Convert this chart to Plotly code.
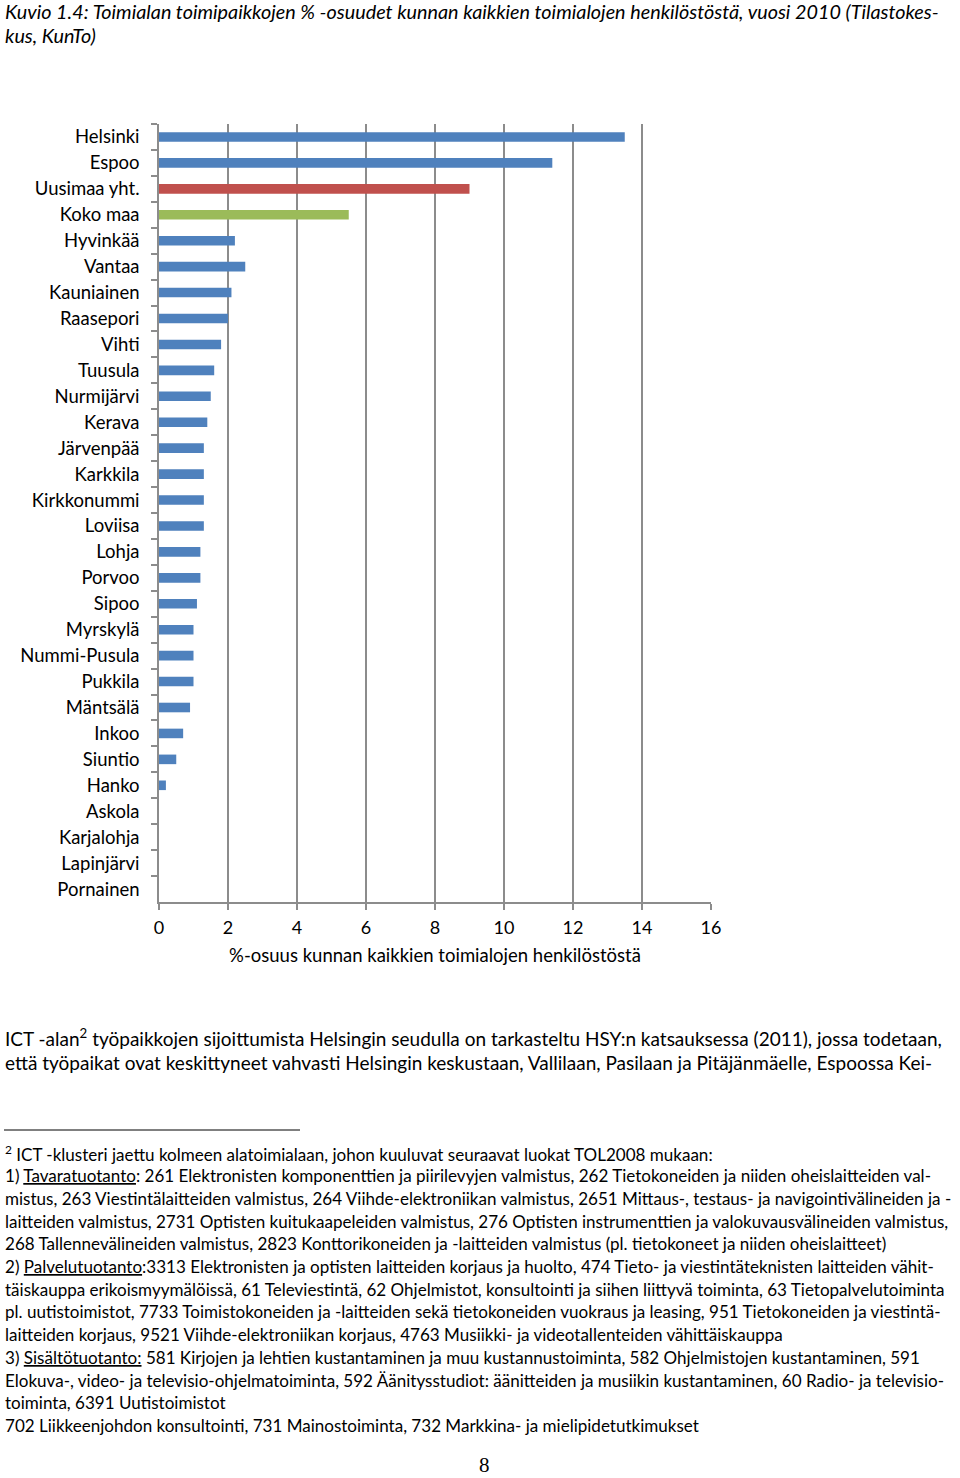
import plotly.graph_objects as go

categories = ["Helsinki", "Espoo", "Uusimaa yht.", "Koko maa", "Hyvinkää", "Vantaa",
              "Kauniainen", "Raasepori", "Vihti", "Tuusula", "Nurmijärvi", "Kerava",
              "Järvenpää", "Karkkila", "Kirkkonummi", "Loviisa", "Lohja", "Porvoo",
              "Sipoo", "Myrskylä", "Nummi-Pusula", "Pukkila", "Mäntsälä", "Inkoo",
              "Siuntio", "Hanko", "Askola", "Karjalohja", "Lapinjärvi", "Pornainen"]
values = [13.5, 11.4, 9.0, 5.5, 2.2, 2.5, 2.1, 2.0, 1.8, 1.6, 1.5, 1.4,
          1.3, 1.3, 1.3, 1.3, 1.2, 1.2, 1.1, 1.0, 1.0, 1.0, 0.9, 0.7,
          0.5, 0.2, 0.0, 0.0, 0.0, 0.0]
x_ticks = [0, 2, 4, 6, 8, 10, 12, 14, 16]
x_title = "%-osuus kunnan kaikkien toimialojen henkilöstöstä"

title_lines = [
    "Kuvio 1.4: Toimialan toimipaikkojen % -osuudet kunnan kaikkien toimialojen henkilöstöstä, vuosi 2010 (Tilastokes-",
    "kus, KunTo)",
]
body_lines = [
    "ICT -alan<sup>2</sup> työpaikkojen sijoittumista Helsingin seudulla on tarkasteltu HSY:n katsauksessa (2011), jossa todetaan,",
    "että työpaikat ovat keskittyneet vahvasti Helsingin keskustaan, Vallilaan, Pasilaan ja Pitäjänmäelle, Espoossa Kei-",
]
footnote_lines = [
    "<sup>2</sup> ICT -klusteri jaettu kolmeen alatoimialaan, johon kuuluvat seuraavat luokat TOL2008 mukaan:",
    "1) <u>Tavaratuotanto</u>: 261 Elektronisten komponenttien ja piirilevyjen valmistus, 262 Tietokoneiden ja niiden oheislaitteiden val-",
    "mistus, 263 Viestintälaitteiden valmistus, 264 Viihde-elektroniikan valmistus, 2651 Mittaus-, testaus- ja navigointivälineiden ja -",
    "laitteiden valmistus, 2731 Optisten kuitukaapeleiden valmistus, 276 Optisten instrumenttien ja valokuvausvälineiden valmistus,",
    "268 Tallennevälineiden valmistus, 2823 Konttorikoneiden ja -laitteiden valmistus (pl. tietokoneet ja niiden oheislaitteet)",
    "2) <u>Palvelutuotanto</u>:3313 Elektronisten ja optisten laitteiden korjaus ja huolto, 474 Tieto- ja viestintäteknisten laitteiden vähit-",
    "täiskauppa erikoismyymälöissä, 61 Televiestintä, 62 Ohjelmistot, konsultointi ja siihen liittyvä toiminta, 63 Tietopalvelutoiminta",
    "pl. uutistoimistot, 7733 Toimistokoneiden ja -laitteiden sekä tietokoneiden vuokraus ja leasing, 951 Tietokoneiden ja viestintä-",
    "laitteiden korjaus, 9521 Viihde-elektroniikan korjaus, 4763 Musiikki- ja videotallenteiden vähittäiskauppa",
    "3) <u>Sisältötuotanto:</u> 581 Kirjojen ja lehtien kustantaminen ja muu kustannustoiminta, 582 Ohjelmistojen kustantaminen, 591",
    "Elokuva-, video- ja televisio-ohjelmatoiminta, 592 Äänitysstudiot: äänitteiden ja musiikin kustantaminen, 60 Radio- ja televisio-",
    "toiminta, 6391 Uutistoimistot",
    "702 Liikkeenjohdon konsultointi, 731 Mainostoiminta, 732 Markkina- ja mielipidetutkimukset",
]
page_number = "8"

highlight = {"Uusimaa yht.": "#C0504D", "Koko maa": "#9BBB59"}
bar_colors = [highlight.get(c, "#4F81BD") for c in categories]

W, H = 960, 1478
L, R, T, B = 159, 711, 124, 902
FONT = "Lato"

def pxx(x):
    return (x - L) / (R - L)

def pxy(y):
    return (B - y) / (B - T)

fig = go.Figure(go.Bar(
    x=values, y=categories, orientation="h",
    marker=dict(color=bar_colors, line=dict(width=0)),
    width=0.37,
))

annotations = []
def add_text(txt, x, y, size, family=FONT, italic=False, anchor="left"):
    if italic:
        txt = "<i>" + txt + "</i>"
    annotations.append(dict(text=txt, x=pxx(x), y=pxy(y), xref="paper", yref="paper",
                            xanchor=anchor, yanchor="middle", showarrow=False,
                            font=dict(family=family, size=size, color="#000000")))

for i, t in enumerate(title_lines):
    add_text(t, 3, 11 + 24.5 * i, 19.8, italic=True)
for i, t in enumerate(body_lines):
    add_text(t, 3, 1037 + 25.5 * i, 19)
for i, t in enumerate(footnote_lines):
    add_text(t, 3, 1153 + 22.7 * i, 17.05)
add_text(page_number, 484, 1465, 21, family="Liberation Serif", anchor="center")

fig.update_layout(
    width=W, height=H,
    margin=dict(l=L, r=W - R, t=T, b=H - B, pad=0),
    plot_bgcolor="white", paper_bgcolor="white",
    showlegend=False,
    annotations=annotations,
    shapes=[dict(type="line", xref="paper", yref="paper",
                 x0=pxx(4), x1=pxx(300), y0=pxy(1130), y1=pxy(1130),
                 line=dict(color="#000000", width=1))],
    font=dict(family=FONT, size=18, color="#000000"),
)
fig.update_xaxes(
    range=[0, 16], tickvals=x_ticks, ticktext=[str(v) for v in x_ticks],
    showgrid=True, gridcolor="#8C8C8C", gridwidth=1.5,
    showline=True, linecolor="#8C8C8C", linewidth=1.5,
    ticks="outside", ticklen=6, tickcolor="#8C8C8C", tickwidth=1.5,
    zeroline=False, ticklabelstandoff=3,
    tickfont=dict(family=FONT, size=18),
    title=dict(text=x_title, font=dict(family=FONT, size=18.5), standoff=12),
)
fig.update_yaxes(
    categoryorder="array", categoryarray=categories, autorange="reversed",
    showgrid=False, showline=True, linecolor="#8C8C8C", linewidth=1.5,
    ticks="outside", ticklen=6, tickcolor="#8C8C8C", tickwidth=1.5,
    tickson="boundaries", ticklabelstandoff=14,
    tickfont=dict(family=FONT, size=18.5),
)

fig.write_html("out.html", config={"displayModeBar": False},
               post_script="document.body.style.margin='0';")
